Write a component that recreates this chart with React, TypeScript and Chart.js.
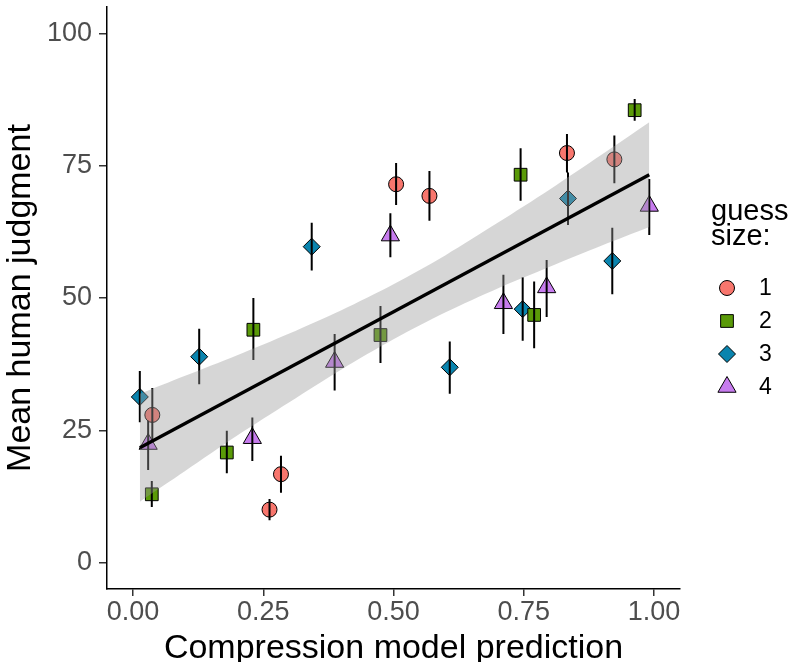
import React, { useEffect, useRef } from 'react';
import { Chart, registerables } from 'chart.js';

Chart.register(...registerables);

const FONT = "'Liberation Sans', Arial, Helvetica, sans-serif";

// ---- Data ----
// guess size 1 (circles)
const size1X = [0.037, 0.262, 0.284, 0.505, 0.569, 0.833, 0.924];
const size1Y = [27.9, 10.0, 16.7, 71.5, 69.3, 77.4, 76.2];
const size1Lo = [22.8, 8.0, 13.2, 67.6, 64.6, 73.7, 71.7];
const size1Hi = [33.0, 12.0, 20.2, 75.5, 74.0, 81.0, 80.7];

// guess size 2 (squares)
const size2X = [0.036, 0.18, 0.231, 0.475, 0.744, 0.77, 0.963];
const size2Y = [12.9, 20.8, 44.0, 43.0, 73.3, 46.8, 85.5];
const size2Lo = [10.5, 16.9, 38.3, 37.7, 68.4, 40.5, 83.5];
const size2Hi = [15.4, 24.9, 50.0, 48.5, 78.3, 53.1, 87.6];

// guess size 3 (diamonds)
const size3X = [0.013, 0.127, 0.343, 0.608, 0.748, 0.835, 0.92];
const size3Y = [31.3, 38.9, 59.7, 36.9, 47.9, 68.8, 57.0];
const size3Lo = [26.5, 33.7, 55.2, 31.9, 41.9, 63.8, 50.7];
const size3Hi = [36.2, 44.2, 64.2, 41.8, 53.9, 73.7, 63.3];

// guess size 4 (triangles)
const size4X = [0.029, 0.229, 0.387, 0.494, 0.711, 0.794, 0.991];
const size4Y = [22.4, 23.5, 37.9, 61.8, 49.0, 52.0, 67.4];
const size4Lo = [17.5, 19.2, 32.5, 57.7, 43.2, 46.4, 61.9];
const size4Hi = [26.8, 27.4, 43.2, 66.0, 54.4, 57.2, 72.5];

// regression line and confidence band
const fitX = [0.013, 0.991];
const fitY = [21.7, 73.3];
const bandX = [0.013, 0.1, 0.2, 0.3, 0.4, 0.5, 0.6, 0.7, 0.8, 0.9, 0.991];
const bandUpper = [31.9, 35.3, 39.2, 43.3, 47.7, 52.6, 58.1, 64.2, 70.5, 77.1, 83.2];
const bandLower = [11.5, 17.3, 24.0, 30.3, 36.5, 42.2, 47.3, 51.8, 55.9, 59.9, 63.4];

const xTickValues = [0, 0.25, 0.5, 0.75, 1];
const yTickValues = [0, 25, 50, 75, 100];

const legendTitle = ['guess', 'size:'];
const groupLabels = ['1', '2', '3', '4'];
const groupColors = ['#F8766D', '#5A9A08', '#0A84AE', '#C77CEE'];
const groupShapes = ['circle', 'rect', 'rectRot', 'triangle'];
const groupRadii = [7.5, 9, 8.5, 10.5];

const groups = [
  { x: size1X, y: size1Y, lo: size1Lo, hi: size1Hi },
  { x: size2X, y: size2Y, lo: size2Lo, hi: size2Hi },
  { x: size3X, y: size3Y, lo: size3Lo, hi: size3Hi },
  { x: size4X, y: size4Y, lo: size4Lo, hi: size4Hi },
];

function drawShape(ctx: CanvasRenderingContext2D, shape: string, x: number, y: number, r: number, fill: string) {
  ctx.beginPath();
  if (shape === 'circle') {
    ctx.arc(x, y, r, 0, Math.PI * 2);
  } else if (shape === 'rect') {
    const s = Math.SQRT1_2 * r;
    ctx.rect(x - s, y - s, 2 * s, 2 * s);
  } else if (shape === 'rectRot') {
    ctx.moveTo(x - r, y);
    ctx.lineTo(x, y - r);
    ctx.lineTo(x + r, y);
    ctx.lineTo(x, y + r);
    ctx.closePath();
  } else {
    let rad = 0;
    ctx.moveTo(x + Math.sin(rad) * r, y - Math.cos(rad) * r);
    rad += (2 * Math.PI) / 3;
    ctx.lineTo(x + Math.sin(rad) * r, y - Math.cos(rad) * r);
    rad += (2 * Math.PI) / 3;
    ctx.lineTo(x + Math.sin(rad) * r, y - Math.cos(rad) * r);
    ctx.closePath();
  }
  ctx.fillStyle = fill;
  ctx.fill();
  ctx.lineWidth = 1;
  ctx.strokeStyle = '#000';
  ctx.stroke();
}

const legendPlugin = {
  id: 'guessLegend',
  afterDraw(chart: any) {
    const ctx: CanvasRenderingContext2D = chart.ctx;
    const left = 711;
    ctx.save();
    ctx.fillStyle = '#000';
    ctx.textAlign = 'left';
    ctx.textBaseline = 'alphabetic';
    ctx.font = `29px ${FONT}`;
    legendTitle.forEach((t, i) => ctx.fillText(t, left, 220 + i * 25));
    groupLabels.forEach((lab, i) => {
      const cy = 288 + i * 33;
      drawShape(ctx, groupShapes[i], left + 16, cy, groupRadii[i], groupColors[i]);
      ctx.fillStyle = '#000';
      ctx.font = `23px ${FONT}`;
      ctx.textBaseline = 'middle';
      ctx.fillText(lab, left + 48, cy + 1);
    });
    ctx.restore();
  },
};

export default function App() {
  const ref = useRef<HTMLCanvasElement>(null);

  useEffect(() => {
    if (!ref.current) return;

    const errData: any[] = [];
    groups.forEach((g) => {
      g.x.forEach((xv, i) => {
        errData.push({ x: xv, y: g.lo[i] });
        errData.push({ x: xv, y: g.hi[i] });
        errData.push({ x: xv, y: null });
      });
    });

    const datasets: any[] = [
      {
        type: 'line',
        label: 'fit',
        data: fitX.map((xv, i) => ({ x: xv, y: fitY[i] })),
        borderColor: '#000',
        borderWidth: 3.3,
        pointRadius: 0,
        showLine: true,
        fill: false,
        order: 0,
      },
      {
        type: 'line',
        label: 'bandUpper',
        data: bandX.map((xv, i) => ({ x: xv, y: bandUpper[i] })),
        borderWidth: 0,
        borderColor: 'rgba(0,0,0,0)',
        backgroundColor: 'rgba(153,153,153,0.4)',
        pointRadius: 0,
        showLine: true,
        tension: 0.3,
        fill: '+1',
        order: 1,
      },
      {
        type: 'line',
        label: 'bandLower',
        data: bandX.map((xv, i) => ({ x: xv, y: bandLower[i] })),
        borderWidth: 0,
        borderColor: 'rgba(0,0,0,0)',
        pointRadius: 0,
        showLine: true,
        tension: 0.3,
        fill: false,
        order: 1,
      },
      {
        type: 'line',
        label: 'errorbars',
        data: errData,
        borderColor: '#000',
        borderWidth: 2,
        pointRadius: 0,
        showLine: true,
        spanGaps: false,
        fill: false,
        order: 2,
      },
      ...groups.map((g, k) => ({
        type: 'scatter',
        label: groupLabels[k],
        data: g.x.map((xv, i) => ({ x: xv, y: g.y[i] })),
        pointStyle: groupShapes[k],
        pointRadius: groupRadii[k],
        backgroundColor: groupColors[k],
        borderColor: '#000',
        borderWidth: 1,
        order: 3,
      })),
    ];

    const chart = new Chart(ref.current, {
      type: 'scatter',
      data: { datasets },
      options: {
        animation: false,
        responsive: false,
        events: [],
        layout: { autoPadding: false, padding: { top: 7, right: 113, left: 0, bottom: 0 } },
        plugins: {
          legend: { display: false },
          tooltip: { enabled: false },
        },
        scales: {
          x: {
            type: 'linear',
            min: -0.05,
            max: 1.05,
            afterBuildTicks: (s: any) => {
              s.ticks = xTickValues.map((v) => ({ value: v }));
            },
            afterFit: (s: any) => {
              s.height = 73;
              s.paddingLeft = 0;
              s.paddingRight = 0;
            },
            ticks: {
              callback: (v: any) => Number(v).toFixed(2),
              font: { size: 27, family: FONT },
              color: '#4D4D4D',
              padding: 0,
              maxRotation: 0,
              autoSkip: false,
            },
            grid: {
              drawOnChartArea: false,
              drawTicks: true,
              tickLength: 7,
              color: '#333',
              lineWidth: 1.5,
            },
            border: { display: true, color: '#000', width: 1.5 },
            title: {
              display: true,
              text: 'Compression model prediction',
              color: '#000',
              font: { size: 34, family: FONT, lineHeight: 0.8 },
              padding: { top: 0, bottom: 0 },
            },
          },
          y: {
            type: 'linear',
            min: -5,
            max: 105,
            afterBuildTicks: (s: any) => {
              s.ticks = yTickValues.map((v) => ({ value: v }));
            },
            afterFit: (s: any) => {
              s.width = 107;
              s.paddingTop = 0;
              s.paddingBottom = 0;
            },
            ticks: {
              callback: (v: any) => String(v),
              font: { size: 27, family: FONT },
              color: '#4D4D4D',
              padding: 7,
              autoSkip: false,
            },
            grid: {
              drawOnChartArea: false,
              drawTicks: true,
              tickLength: 8,
              color: '#333',
              lineWidth: 1.5,
            },
            border: { display: true, color: '#000', width: 1.5 },
            title: {
              display: true,
              text: 'Mean human judgment',
              color: '#000',
              font: { size: 34, family: FONT, lineHeight: 1.2 },
              padding: { top: 0, bottom: 0 },
            },
          },
        },
      } as any,
      plugins: [legendPlugin],
    } as any);

    return () => chart.destroy();
  }, []);

  return (
    <div style={{ position: 'absolute', left: 0, top: 0, width: 793, height: 662, background: '#fff' }}>
      <canvas ref={ref} width={793} height={662} style={{ display: 'block' }} />
    </div>
  );
}
